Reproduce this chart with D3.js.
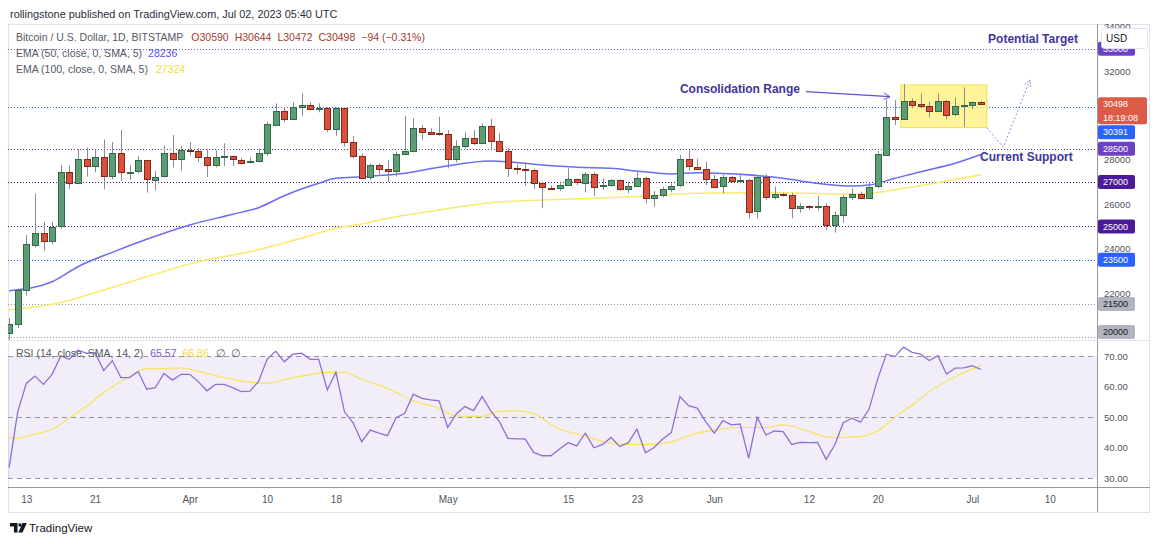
<!DOCTYPE html>
<html>
<head>
<meta charset="utf-8">
<script src="https://d3js.org/d3.v7.min.js"></script>
<style>
body { margin: 0; background: #fff; }
svg { display: block; font-family: "Liberation Sans", Arial, sans-serif; }
</style>
</head>
<body>
<div class="chart"></div>
<script>
// daily candles from 2023-03-11, [open, high, low, close]
var firstDay = "2023-03-11";
var candles = [
[20190,20870,19600,20590],[20590,22210,20430,22135],[22135,24610,21880,24190],[24190,26490,24060,24715],
[24715,25210,23905,24340],[24340,25210,24200,24985],[24985,27765,24900,27435],[27435,27735,26685,26940],
[26940,28490,26895,28020],[28050,28545,27240,27750],[27750,28470,27435,28140],[28140,28920,26670,27270],
[27270,28800,27120,28290],[28290,29340,27045,27435],[27435,27765,27090,27460],[27460,28170,27390,27975],
[27975,27990,26520,27120],[27120,27495,26610,27240],[27240,28635,27195,28290],[28290,29115,27660,28020],
[28020,28620,27510,28430],[28430,28800,28200,28410],[28410,28515,27885,28130],[28130,28470,27225,27765],
[27765,28440,27660,28130],[28130,28745,27720,28150],[28150,28170,27720,28005],[28005,28095,27795,27885],
[27885,28110,27840,27945],[27945,28490,27885,28290],[28290,29715,28170,29600],[29600,30545,29550,30210],
[30210,30395,29690,29840],[29840,30590,29800,30395],[30395,30995,29985,30470],[30470,30590,30245,30290],
[30290,30545,30140,30320],[30320,30365,29240,29390],[29390,30365,29085,30335],[30335,30365,28590,28790],
[28790,29070,28065,28170],[28170,28290,27135,27195],[27195,27840,27090,27750],[27750,27840,27345,27570],
[27570,27990,26990,27480],[27480,28365,27240,28260],[28260,29985,28200,28395],[28395,29870,28380,29445],
[29445,29570,28890,29265],[29265,29420,29115,29190],[29190,29940,29085,29160],[29160,29340,27615,28035],
[28035,28890,27885,28620],[28620,29240,28520,28995],[28995,29340,28665,28770],[28770,29645,28720,29525],
[29525,29840,28410,28845],[28845,29195,28395,28410],[28410,28515,27240,27645],[27645,27795,27345,27585],
[27585,27885,26820,27540],[27540,27600,26685,26940],[26940,27015,25815,26745],[26745,26855,26640,26730],
[26730,27015,26595,26855],[26855,27615,26820,27120],[27120,27165,26855,26970],[26970,27450,26535,27360],
[27360,27435,26370,26790],[26790,27150,26640,26855],[26855,27120,26790,27090],[27090,27120,26610,26685],
[26685,27000,26490,26835],[26835,27465,26790,27195],[27195,27240,26040,26295],[26295,26595,25885,26415],
[26415,26790,26310,26685],[26685,26940,26535,26835],[26835,28215,26760,28020],[28020,28440,27510,27690],
[27690,28050,27540,27600],[27600,27915,26865,27135],[27135,27315,26715,26790],[26790,27315,26490,27210],
[27210,27270,26985,27045],[27045,27315,26940,27090],[27090,27150,25365,25665],[25665,27315,25365,27210],
[27210,27345,26190,26295],[26295,26790,26220,26445],[26445,26520,26340,26415],[26415,26520,25365,25815],
[25815,26040,25620,25920],[25920,25965,25740,25860],[25860,26370,25710,25920],[25920,26040,24840,25080],
[25080,25665,24715,25515],[25515,26415,25165,26310],[26310,26715,26190,26460],[26460,26565,26265,26295],
[26295,26970,26265,26790],[26790,28395,26715,28245],[28245,30695,28215,29940],[29940,30695,29565,29835],
[29835,31400,29790,30660],[30660,30770,30320,30500],[30500,30995,30320,30425],[30425,30620,29915,30200],
[30200,30995,30170,30660],[30660,30695,29825,30050],[30050,30800,29975,30425],[30425,31265,29490,30470],
[30470,30620,30275,30590],[30590,30644,30472,30498]
];

// RSI(14), one value per candle
var rsi = [
33.4,51.7,61.0,63.4,60.7,64.0,70.0,68.9,72.0,70.9,71.1,65.2,68.5,62.9,62.9,64.9,59.1,59.6,64.3,62.1,
64.0,64.0,61.6,58.6,60.7,60.7,59.6,58.3,58.5,61.6,68.9,71.6,68.1,70.6,70.9,68.9,68.9,58.9,64.7,51.7,
48.1,41.9,45.7,44.7,43.9,49.8,51.2,57.5,56.1,55.6,55.3,46.6,51.0,53.4,52.1,56.7,52.0,48.5,43.0,42.8,
42.8,38.4,37.3,37.3,39.5,41.6,40.5,44.7,39.9,41.0,43.3,40.3,41.6,46.0,38.3,40.0,42.8,44.9,56.7,53.7,
52.9,48.5,44.7,48.8,47.4,47.7,36.5,49.9,44.1,45.4,45.2,41.0,41.7,41.6,41.7,36.1,40.8,48.1,49.6,48.3,
52.6,62.5,70.6,69.8,72.9,71.2,70.6,68.5,70.1,64.1,66.0,66.1,66.8,65.57
];

// [candle number (1 = first), value]
var rsiSma = [[1,43.2],[2,43.0],[4,44.5],[6,45.9],[8,49.7],[10,53.5],[12,58.0],[15,63.2],[17,65.9],[19,65.9],
[21,66.1],[23,65.0],[26,62.9],[28,61.8],[31,61.0],[33,62.3],[35,63.4],[38,64.6],[40,64.6],[42,62.3],
[45,59.4],[48,55.3],[51,52.9],[53,50.4],[56,50.2],[58,51.8],[60,52.0],[62,51.1],[65,46.0],[67,44.5],
[70,42.1],[72,41.0],[76,41.0],[78,41.9],[81,44.7],[83,45.7],[86,46.6],[89,46.6],[91,47.4],[94,45.3],
[96,43.5],[98,43.3],[100,43.6],[102,45.5],[104,49.9],[106,53.9],[108,58.3],[111,63.2],[114,66.86]];

var ema50 = [[1,22102],[6,22508],[9,23184],[13,23832],[17,24418],[22,25063],[27,25544],[30,25842],[33,26382],
[37,26941],[39,27166],[42,27238],[47,27391],[51,27662],[57,27946],[59,27914],[63,27765],[67,27662],[71,27617],
[74,27495],[78,27360],[81,27419],[86,27346],[91,27166],[95,26941],[99,26819],[101,26864],[104,27166],
[107,27463],[111,27842],[114,28236]];

var ema100 = [[1,21233],[6,21490],[12,22134],[17,22733],[23,23409],[29,23860],[35,24463],[39,24914],[42,25108],
[45,25364],[51,25738],[57,26067],[63,26188],[69,26265],[74,26346],[81,26490],[90,26517],[98,26459],[101,26490],
[105,26716],[114,27324]];

var levelPrices = [33000, 30391, 28500, 27000, 25000, 23500, 21500, 20000];
var priceTicks = [22000, 24000, 26000, 28000, 32000, 34000];
var rsiTicks = [30, 40, 50, 60, 70];
var rsiLevels = [70, 50, 30];
var timeTicks = [["2023-03-13","13"],["2023-03-21","21"],["2023-04-01","Apr"],["2023-04-10","10"],
["2023-04-18","18"],["2023-05-01","May"],["2023-05-15","15"],["2023-05-23","23"],["2023-06-01","Jun"],
["2023-06-12","12"],["2023-06-20","20"],["2023-07-01","Jul"],["2023-07-10","10"]];

// drawings, in [days after firstDay, price]
var consBox = [[103.7, 31370], [113.7, 29450]];
var consArrow = [[92.66, 31067], [102.43, 30842]];
var targetPath = [[113.7, 29446], [115.6, 28563], [118.7, 31595]];
var notes = [
  {at: [113.84, 33442], text: "Potential Target"},
  {at: [78.0, 31189], text: "Consolidation Range"},
  {at: [112.9, 28126], text: "Current Support"}
];

var width = 1160, height = 544;
var plotL = 8, plotR = 1097, mainT = 24, mainB = 340, rsiT = 341, rsiB = 487, frameR = 1150, frameB = 512;

function day(i) { return new Date(Date.parse(firstDay + "T00:00:00Z") + i * 864e5); }

var x = d3.scaleUtc().domain([day(0), day(113)]).range([9.1, 980.9]);
var y = d3.scaleLinear().domain([20000, 32000]).range([337.4, 71]);
var yr = d3.scaleLinear().domain([30, 70]).range([478, 356]);

var svg = d3.select(".chart").append("svg")
    .attr("width", width).attr("height", height);

var defs = svg.append("defs");
defs.append("clipPath").attr("id", "clipMain").append("rect")
    .attr("x", plotL).attr("y", mainT).attr("width", plotR - plotL).attr("height", mainB - mainT);
defs.append("clipPath").attr("id", "clipRsi").append("rect")
    .attr("x", plotL).attr("y", rsiT).attr("width", plotR - plotL).attr("height", rsiB - rsiT);
defs.append("clipPath").attr("id", "clipAxis").append("rect")
    .attr("x", plotR).attr("y", mainT).attr("width", frameR - plotR).attr("height", mainB - mainT);

svg.append("text").attr("x", 10).attr("y", 18)
    .attr("font-size", 10.9).attr("fill", "#2a2e39")
    .text("rollingstone published on TradingView.com, Jul 02, 2023 05:40 UTC");

// frame
svg.append("rect").attr("x", plotL + 0.5).attr("y", mainT + 0.5)
    .attr("width", frameR - plotL - 1).attr("height", frameB - mainT)
    .attr("fill", "none").attr("stroke", "#e0e3eb");

// ---- RSI pane
var rg = svg.append("g").attr("clip-path", "url(#clipRsi)");
rg.append("rect").attr("x", plotL).attr("width", plotR - plotL)
    .attr("y", yr(70)).attr("height", yr(30) - yr(70))
    .attr("fill", "rgba(126,87,194,0.1)");
rg.selectAll(".rsilvl").data(rsiLevels).enter().append("line")
    .attr("x1", plotL).attr("x2", plotR)
    .attr("y1", function(d){ return Math.round(yr(d)) + 0.5; })
    .attr("y2", function(d){ return Math.round(yr(d)) + 0.5; })
    .attr("stroke", "#9598a1").attr("stroke-dasharray", "5,4");

var lineIdx = d3.line()
    .x(function(d){ return x(day(d[0] - 1)); })
    .y(function(d){ return yr(d[1]); })
    .curve(d3.curveMonotoneX);
rg.append("path").datum(rsiSma).attr("d", lineIdx)
    .attr("fill", "none").attr("stroke", "#f7e463").attr("stroke-width", 1.3);
rg.append("path").datum(rsi).attr("d", d3.line()
        .x(function(d, i){ return x(day(i)); })
        .y(function(d){ return yr(d); }))
    .attr("fill", "none").attr("stroke", "#8e6fd3").attr("stroke-width", 1.3);

// ---- main pane
var mg = svg.append("g").attr("clip-path", "url(#clipMain)");

var levelStyle = {
  33000: ["#7e57c2", "#6c42c4", "#fff"], 30391: ["#2962ff", "#2962ff", "#fff"],
  28500: ["#673ab7", "#6c42c4", "#fff"], 27000: ["#4a148c", "#4a1a99", "#fff"],
  25000: ["#4a148c", "#4a1a99", "#fff"], 23500: ["#2962ff", "#2962ff", "#fff"],
  21500: ["#9598a1", "#b2b5be", "#131722"], 20000: ["#9598a1", "#b2b5be", "#131722"]
};

mg.selectAll(".lvl").data(levelPrices).enter().append("line")
    .attr("x1", plotL).attr("x2", plotR)
    .attr("y1", function(d){ return Math.round(y(d)) + 0.5; })
    .attr("y2", function(d){ return Math.round(y(d)) + 0.5; })
    .attr("stroke", function(d){ return levelStyle[d][0]; })
    .attr("stroke-dasharray", "1,2");

// consolidation box
mg.append("rect")
    .attr("x", x(day(consBox[0][0]))).attr("y", y(consBox[0][1]))
    .attr("width", x(day(consBox[1][0])) - x(day(consBox[0][0])))
    .attr("height", y(consBox[1][1]) - y(consBox[0][1]))
    .attr("fill", "rgba(255,241,118,0.75)").attr("stroke", "#f4dd4c");

var emaLine = d3.line()
    .x(function(d){ return x(day(d[0] - 1)); })
    .y(function(d){ return y(d[1]); })
    .curve(d3.curveMonotoneX);
mg.append("path").datum(ema100).attr("d", emaLine)
    .attr("fill", "none").attr("stroke", "#fcea6a").attr("stroke-width", 1.5);
mg.append("path").datum(ema50).attr("d", emaLine)
    .attr("fill", "none").attr("stroke", "#6b6bf5").attr("stroke-width", 1.5);

var cg = mg.selectAll(".candle").data(candles).enter().append("g").attr("class", "candle");
function cx(i) { return Math.round(x(day(i))) + 0.5; }
cg.append("line")
    .attr("x1", function(d, i){ return cx(i); }).attr("x2", function(d, i){ return cx(i); })
    .attr("y1", function(d){ return y(d[1]); }).attr("y2", function(d){ return y(d[2]); })
    .attr("stroke", "#8a8c94");
cg.append("rect")
    .attr("x", function(d, i){ return cx(i) - 3; })
    .attr("width", 6)
    .attr("y", function(d){ return Math.round(y(Math.max(d[0], d[3]))) + 0.5; })
    .attr("height", function(d){ return Math.max(1, Math.round(Math.abs(y(d[0]) - y(d[3])))); })
    .attr("fill", function(d){ return d[3] >= d[0] ? "#5e9c76" : "#d9503d"; })
    .attr("stroke", function(d){ return d[3] >= d[0] ? "#2f6a47" : "#80291e"; });

// annotations
var annoColor = "#40359a";
function pt(p) { return [x(day(p[0])), y(p[1])]; }
function arrowHead(g, a, b, len, color, dash) {
  var ang = Math.atan2(b[1] - a[1], b[0] - a[0]);
  var p1 = [b[0] - len * Math.cos(ang - 0.5), b[1] - len * Math.sin(ang - 0.5)];
  var p2 = [b[0] - len * Math.cos(ang + 0.5), b[1] - len * Math.sin(ang + 0.5)];
  g.append("path").attr("d", "M" + p1 + "L" + b + "L" + p2)
    .attr("fill", "none").attr("stroke", color).attr("stroke-width", 1)
    .attr("stroke-dasharray", dash || null);
}
var ag = svg.append("g");
var ca = consArrow.map(pt);
ag.append("path").attr("d", "M" + ca[0] + "L" + ca[1])
    .attr("stroke", "#5a52cf").attr("stroke-width", 1.2).attr("fill", "none");
arrowHead(ag, ca[0], ca[1], 7, "#5a52cf");

var tp = targetPath.map(pt);
ag.append("path").attr("d", "M" + tp.join("L"))
    .attr("stroke", "#8d93dc").attr("stroke-width", 1).attr("fill", "none")
    .attr("stroke-dasharray", "2,2");
arrowHead(ag, tp[1], tp[2], 7, "#8d93dc", "2,1");

ag.selectAll(".note").data(notes).enter().append("text")
    .attr("x", function(d){ return pt(d.at)[0]; })
    .attr("y", function(d){ return pt(d.at)[1]; })
    .attr("dy", "0.35em")
    .attr("font-size", 12).attr("font-weight", "bold").attr("fill", annoColor)
    .text(function(d){ return d.text; });

// header legend
var last = candles[candles.length - 1];
var ohlcColor = "#a03b30";
var h1 = svg.append("text").attr("x", 16).attr("y", 41).attr("font-size", 10.5).attr("fill", "#555964");
h1.append("tspan").text("Bitcoin / U.S. Dollar, 1D, BITSTAMP");
["O", "H", "L", "C"].forEach(function(k, i) {
  h1.append("tspan").attr("dx", i ? 6 : 8).attr("fill", ohlcColor).text(k + last[i]);
});
h1.append("tspan").attr("dx", 6).attr("fill", ohlcColor).text("\u221294 (\u22120.31%)");

var h2 = svg.append("text").attr("x", 16).attr("y", 57).attr("font-size", 10.5).attr("fill", "#555964");
h2.append("tspan").text("EMA (50, close, 0, SMA, 5)");
h2.append("tspan").attr("dx", 6).attr("fill", "#4f4fff").text(ema50[ema50.length - 1][1]);
var h3 = svg.append("text").attr("x", 16).attr("y", 73).attr("font-size", 10.5).attr("fill", "#555964");
h3.append("tspan").text("EMA (100, close, 0, SMA, 5)");
h3.append("tspan").attr("dx", 8).attr("fill", "#f2dc3a").text(ema100[ema100.length - 1][1]);

var r1 = svg.append("text").attr("x", 16).attr("y", 357).attr("font-size", 10.5).attr("fill", "#555964");
r1.append("tspan").text("RSI (14, close, SMA, 14, 2)");
r1.append("tspan").attr("dx", 7).attr("fill", "#7e57c2").text(d3.format(".2f")(rsi[rsi.length - 1]));
r1.append("tspan").attr("dx", 6).attr("fill", "#f2dc3a").text(d3.format(".2f")(rsiSma[rsiSma.length - 1][1]));
r1.append("tspan").attr("dx", 7).text("\u2205");
r1.append("tspan").attr("dx", 5).text("\u2205");

// ---- axes
svg.append("line").attr("x1", plotR + 0.5).attr("x2", plotR + 0.5).attr("y1", mainT).attr("y2", frameB)
    .attr("stroke", "#9598a1");
svg.append("line").attr("x1", plotL).attr("x2", frameR).attr("y1", mainB + 0.5).attr("y2", mainB + 0.5)
    .attr("stroke", "#e0e3eb");
svg.append("line").attr("x1", plotL).attr("x2", frameR).attr("y1", rsiB + 0.5).attr("y2", rsiB + 0.5)
    .attr("stroke", "#9598a1");

var pa = svg.append("g").attr("clip-path", "url(#clipAxis)").append("g")
    .attr("transform", "translate(" + plotR + ",0)")
    .call(d3.axisRight(y).tickValues(priceTicks).tickSize(0).tickPadding(7).tickFormat(d3.format("d")));
pa.select(".domain").remove();
pa.selectAll("text").attr("font-size", 9.5).attr("fill", "#50535e").attr("font-family", null);

var ra = svg.append("g").attr("transform", "translate(" + plotR + ",0)")
    .call(d3.axisRight(yr).tickValues(rsiTicks).tickSize(0).tickPadding(7).tickFormat(d3.format(".2f")));
ra.select(".domain").remove();
ra.selectAll("text").attr("font-size", 9.5).attr("fill", "#50535e").attr("font-family", null);

var tLabel = {};
timeTicks.forEach(function(t){ tLabel[+new Date(t[0] + "T00:00:00Z")] = t[1]; });
var ta = svg.append("g").attr("transform", "translate(0," + rsiB + ")")
    .call(d3.axisBottom(x)
      .tickValues(timeTicks.map(function(t){ return new Date(t[0] + "T00:00:00Z"); }))
      .tickSize(0).tickPadding(9)
      .tickFormat(function(d){ return tLabel[+d]; }));
ta.select(".domain").remove();
ta.selectAll("text").attr("font-size", 10).attr("fill", "#50535e").attr("font-family", null);

// price labels on the scale, pushed apart like the platform does
var labels = levelPrices.map(function(p) {
  return {price: p, top: y(p) - 7, h: 14, bg: levelStyle[p][1], fg: levelStyle[p][2], lines: [String(p)]};
});
labels.push({price: last[3], top: y(last[3]) - 7, h: 27, bg: "#dc5a47", fg: "#fff",
             lines: [String(last[3]), "18:19:08"], wide: true});
labels.sort(function(a, b){ return a.top - b.top; });
for (var i = 1; i < labels.length; i++) {
  var prev = labels[i - 1];
  if (labels[i].top < prev.top + prev.h + 1) labels[i].top = prev.top + prev.h + 1;
}
for (var j = labels.length - 1; j >= 0; j--) {
  var lim = j === labels.length - 1 ? mainB - 1 : labels[j + 1].top - 1;
  if (labels[j].top + labels[j].h > lim) labels[j].top = lim - labels[j].h;
}
var lg = svg.append("g").attr("clip-path", "url(#clipAxis)");
var lab = lg.selectAll(".plab").data(labels).enter().append("g");
lab.append("rect")
    .attr("x", plotR + 1).attr("y", function(d){ return d.top; })
    .attr("width", function(d){ return d.wide ? 49 : 37; })
    .attr("height", function(d){ return d.h; })
    .attr("rx", 2).attr("fill", function(d){ return d.bg; });
lab.each(function(d) {
  var g = d3.select(this);
  d.lines.forEach(function(s, k) {
    g.append("text").attr("x", plotR + 6).attr("y", d.top + 7 + k * 13.5).attr("dy", "0.35em")
      .attr("font-size", 9).attr("fill", d.fg).text(s);
  });
});

// currency box
svg.append("rect").attr("x", 1101.5).attr("y", 28.5).attr("width", 46).attr("height", 20).attr("rx", 3)
    .attr("fill", "#fff").attr("stroke", "#e0e3eb");
svg.append("text").attr("x", 1106).attr("y", 38.5).attr("dy", "0.35em")
    .attr("font-size", 10).attr("fill", "#131722").text("USD");

// footer logo
var logo = svg.append("g").attr("fill", "#131722");
logo.append("path").attr("d", "M10,523h7.5v9.5h-3.6v-5.9h-3.9z");
logo.append("circle").attr("cx", 20).attr("cy", 525).attr("r", 1.7);
logo.append("path").attr("d", "M22.6,523h4.2l-4.3,9.5h-4.2z");
svg.append("text").attr("x", 29).attr("y", 532).attr("font-size", 11.5).attr("fill", "#131722")
    .text("TradingView");
</script>
</body>
</html>
